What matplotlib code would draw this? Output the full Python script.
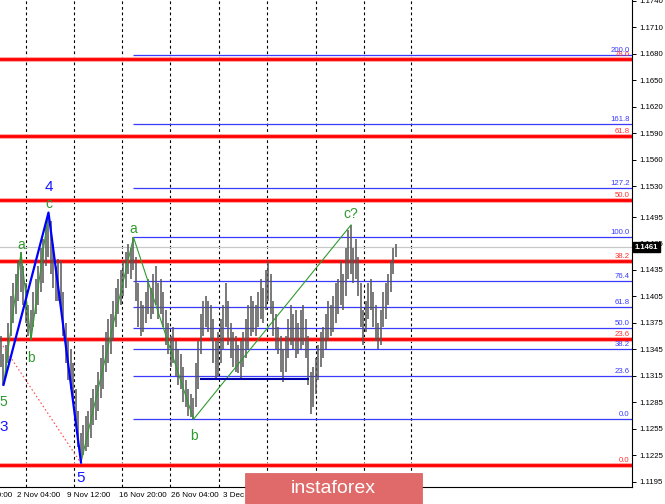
import matplotlib
matplotlib.use('Agg')
import matplotlib.pyplot as plt
import matplotlib.transforms as mtransforms
from matplotlib.patches import Rectangle

# ---------------- data ----------------
highs = [1.1360, 1.1340, 1.1350, 1.1375, 1.1405, 1.1420, 1.1430, 1.1445, 1.1455, 1.1440,
         1.1420, 1.1395, 1.1390, 1.1410, 1.1425, 1.1440, 1.1460, 1.1470, 1.1485, 1.1500,
         1.1490, 1.1465, 1.1440, 1.1448, 1.1445, 1.1410, 1.1375, 1.1355, 1.1345, 1.1330,
         1.1300, 1.1275, 1.1250, 1.1260, 1.1270, 1.1275, 1.1290, 1.1300, 1.1305, 1.1320,
         1.1335, 1.1350, 1.1365, 1.1380, 1.1385, 1.1400, 1.1415, 1.1425, 1.1435, 1.1445,
         1.1455, 1.1465, 1.1460, 1.1472, 1.1450, 1.1420, 1.1400, 1.1395, 1.1410, 1.1425,
         1.1415, 1.1430, 1.1440, 1.1420, 1.1425, 1.1410, 1.1390, 1.1375, 1.1360, 1.1370,
         1.1355, 1.1345, 1.1340, 1.1325, 1.1310, 1.1300, 1.1295, 1.1290, 1.1330, 1.1355,
         1.1385, 1.1400, 1.1405, 1.1400, 1.1395, 1.1380, 1.1355, 1.1365, 1.1380, 1.1395,
         1.1420, 1.1400, 1.1375, 1.1365, 1.1360, 1.1350, 1.1355, 1.1365, 1.1380, 1.1395,
         1.1405, 1.1400, 1.1395, 1.1410, 1.1425, 1.1415, 1.1435, 1.1445, 1.1430, 1.1400,
         1.1385, 1.1370, 1.1360, 1.1345, 1.1360, 1.1380, 1.1395, 1.1385, 1.1390, 1.1375,
         1.1390, 1.1395, 1.1380, 1.1360, 1.1320, 1.1325, 1.1335, 1.1350, 1.1365, 1.1370,
         1.1385, 1.1400, 1.1395, 1.1405, 1.1420, 1.1425, 1.1445, 1.1430, 1.1460, 1.1480,
         1.1486, 1.1460, 1.1470, 1.1450, 1.1420, 1.1390, 1.1400, 1.1420, 1.1425, 1.1410,
         1.1395, 1.1375, 1.1390, 1.1410, 1.1420, 1.1430, 1.1445, 1.1460, 1.1465]
lows = [1.1325, 1.1305, 1.1315, 1.1330, 1.1360, 1.1375, 1.1385, 1.1400, 1.1410, 1.1395,
        1.1375, 1.1360, 1.1356, 1.1370, 1.1385, 1.1395, 1.1410, 1.1420, 1.1440, 1.1450,
        1.1430, 1.1415, 1.1400, 1.1400, 1.1390, 1.1360, 1.1330, 1.1310, 1.1300, 1.1285,
        1.1260, 1.1235, 1.1217, 1.1225, 1.1230, 1.1235, 1.1245, 1.1260, 1.1265, 1.1275,
        1.1290, 1.1300, 1.1320, 1.1330, 1.1340, 1.1355, 1.1370, 1.1385, 1.1395, 1.1405,
        1.1415, 1.1430, 1.1425, 1.1435, 1.1400, 1.1370, 1.1360, 1.1365, 1.1375, 1.1385,
        1.1380, 1.1385, 1.1395, 1.1380, 1.1385, 1.1370, 1.1350, 1.1340, 1.1325, 1.1330,
        1.1315, 1.1305, 1.1300, 1.1285, 1.1280, 1.1270, 1.1268, 1.1266, 1.1280, 1.1300,
        1.1340, 1.1360, 1.1370, 1.1365, 1.1355, 1.1330, 1.1311, 1.1315, 1.1330, 1.1345,
        1.1370, 1.1350, 1.1335, 1.1325, 1.1320, 1.1318, 1.1312, 1.1325, 1.1335, 1.1345,
        1.1360, 1.1365, 1.1360, 1.1370, 1.1380, 1.1375, 1.1390, 1.1400, 1.1385, 1.1360,
        1.1345, 1.1340, 1.1320, 1.1308, 1.1320, 1.1335, 1.1350, 1.1345, 1.1335, 1.1340,
        1.1345, 1.1350, 1.1335, 1.1305, 1.1272, 1.1280, 1.1295, 1.1310, 1.1325, 1.1335,
        1.1345, 1.1355, 1.1360, 1.1365, 1.1375, 1.1385, 1.1395, 1.1390, 1.1405, 1.1425,
        1.1430, 1.1420, 1.1425, 1.1405, 1.1370, 1.1350, 1.1365, 1.1380, 1.1390, 1.1370,
        1.1355, 1.1345, 1.1350, 1.1370, 1.1380, 1.1395, 1.1410, 1.1430, 1.1450]
last_price = 1.1461

date_labels = ['1 Nov 20:00', '2 Nov 04:00', '9 Nov 12:00', '16 Nov 20:00', '26 Nov 04:00', '3 Dec 12:00']
date_label_pos = [-12.8, 6.4, 26.4, 47.2, 68.0, 88.8]
grid_pos = [10, 29.2, 48.4, 67.6, 87.2, 106.4, 126, 145.2, 164]

y_ticks = [1.1195, 1.1225, 1.1255, 1.1285, 1.1315, 1.1345, 1.1375, 1.1405, 1.1435,
           1.1465, 1.1495, 1.1530, 1.1560, 1.1590, 1.1620, 1.1650, 1.1680, 1.1710, 1.1740]

# red (large) fibonacci levels
red_fib_labels = ['0.0', '23.6', '38.2', '50.0', '61.8', '78.6']
red_fib_prices = [1.1214, 1.1357, 1.1445, 1.1514, 1.1587, 1.1674]

# blue (small) fibonacci levels, drawn from bar 53 onward
blue_fib_labels = ['0.0', '23.6', '38.2', '50.0', '61.8', '76.4', '100.0', '127.2', '161.8', '200.0']
blue_fib_prices = [1.1266, 1.1315, 1.1345, 1.1369, 1.1393, 1.1423, 1.1472, 1.1528, 1.1600, 1.1678]
blue_fib_start = 53

# wave structure: (bar index, 'H' high / 'L' low)
blue_wave = [(1, 'L'), (19, 'H'), (32, 'L')]
green_wave_1 = [(1, 'L'), (8, 'H'), (12, 'L'), (19, 'H')]
green_wave_2 = [(32, 'L'), (53, 'H'), (77, 'L'), (140, 'H')]

# labels: (text, bar index, 'H'/'L', colour key, pixel offset y)
wave_labels = [('4', 19, 'H', 'blue', 26), ('c', 19, 'H', 'green', 9),
               ('a', 8, 'H', 'green', 7), ('b', 12, 'L', 'green', -18),
               ('5', 1, 'L', 'green', -17), ('3', 1, 'L', 'blue', -42),
               ('5', 32, 'L', 'blue', -15), ('a', 53, 'H', 'green', 8),
               ('b', 77, 'L', 'green', -17), ('c?', 140, 'H', 'green', 11)]

support_x = [80, 123]
support_y = [1.1312, 1.1312]
proj_x = [0.8, 31.6]
proj_y = [1.1349, 1.1218]

# ---------------- figure ----------------
W, H = 665, 504
fig = plt.figure(figsize=(W / 100, H / 100), dpi=100)
fig.patch.set_facecolor('white')
ax = fig.add_axes([0, 1 - 487 / H, 632 / W, 487 / H])
ax.set_facecolor('white')

n = len(highs)
ax.set_xlim(-0.4, -0.4 + 632 / 2.5)
ax.set_ylim(1.11893, 1.17407)

FONT = 'Liberation Sans'
GREEN = '#2f9a2f'
BLUE = '#1515ff'

# grid
for gx in grid_pos:
    ax.axvline(gx, color='black', lw=0.8, ls=(0, (2.5, 2.5)), zorder=1)

# current price line
ax.axhline(last_price, color='#c8c8c8', lw=0.9, zorder=1)

# red levels
ymix = mtransforms.blended_transform_factory(ax.transAxes, ax.transData)
for lab, p in zip(red_fib_labels, red_fib_prices):
    ax.axhline(p, color='#ff9a9a', lw=3.4, zorder=2)
    ax.axhline(p, color='#ff0000', lw=2.0, zorder=2)
    ax.text(0.9965, p + 0.00012, lab, transform=ymix, ha='right', va='bottom',
            fontsize=5.6, color='#ff3030', family=FONT, zorder=6)

# blue levels
for lab, p in zip(blue_fib_labels, blue_fib_prices):
    ax.hlines(p, blue_fib_start, ax.get_xlim()[1], color='#3a3aff', lw=0.9, zorder=2)
    ax.text(0.9965, p + 0.00012, lab, transform=ymix, ha='right', va='bottom',
            fontsize=5.6, color='#3a3aff', family=FONT, zorder=6)

# bars
ax.vlines(range(n), lows, highs, color='#555555', lw=1.1, zorder=3)


def pt(idx, kind):
    return highs[idx] if kind == 'H' else lows[idx]


# red dotted projection
ax.plot(proj_x, proj_y, color='#ff5050', lw=0.9, ls=(0, (1.2, 2)), zorder=4)

# waves
for wave, col, lw in [(green_wave_1, GREEN, 0.8), (green_wave_2, GREEN, 0.8), (blue_wave, '#0000ff', 1.6)]:
    xs = [i for i, k in wave]
    ys = [pt(i, k) for i, k in wave]
    ax.plot(xs, ys, color=col, lw=lw, zorder=5)

# support line
ax.plot(support_x, support_y, color='#0000aa', lw=1.5, zorder=5)

# wave labels
for txt, idx, kind, ck, off in wave_labels:
    col = BLUE if ck == 'blue' else GREEN
    fs = 11 if ck == 'blue' else 10
    ax.annotate(txt, (idx, pt(idx, kind)), xytext=(0, off), textcoords='offset pixels',
                ha='center', va='center', fontsize=fs, color=col, family=FONT, zorder=7)

# axes styling
for s in ['top', 'left']:
    ax.spines[s].set_visible(False)
ax.spines['right'].set_linewidth(0.8)
ax.spines['bottom'].set_linewidth(0.8)
ax.set_xticks([])
ax.yaxis.tick_right()
ax.set_yticks(y_ticks)
ax.set_yticklabels([f'{v:.4f}' for v in y_ticks])
ax.tick_params(axis='y', length=3, width=0.7, pad=2, labelsize=5.6, colors='black')
for t in ax.get_yticklabels():
    t.set_family(FONT)

# date labels
xmix = mtransforms.blended_transform_factory(ax.transData, ax.transAxes)
for lab, xp in zip(date_labels, date_label_pos):
    ax.text(xp, -8.5 / 487, lab, transform=xmix, ha='left', va='center', fontsize=5.8,
            family=FONT, color='black', clip_on=False)

# price box
ax.text(1.004, last_price, f'{last_price:.4f}', transform=ymix, ha='left', va='center',
        fontsize=5.6, color='white', family=FONT, fontweight='bold',
        bbox=dict(facecolor='black', edgecolor='black', pad=1.3), clip_on=False, zorder=8)

# watermark
rect = Rectangle((245 / W, 0), (422 - 245) / W, 31 / H, transform=fig.transFigure,
                 facecolor='#e06a6a', edgecolor='#d85a5a', lw=0.5, zorder=10)
fig.add_artist(rect)
fig.text(333 / W, 15.5 / H, 'instaforex', color='white', fontsize=14, ha='center', va='center',
         family=FONT, zorder=11)

fig.savefig('out.png', dpi=100)
